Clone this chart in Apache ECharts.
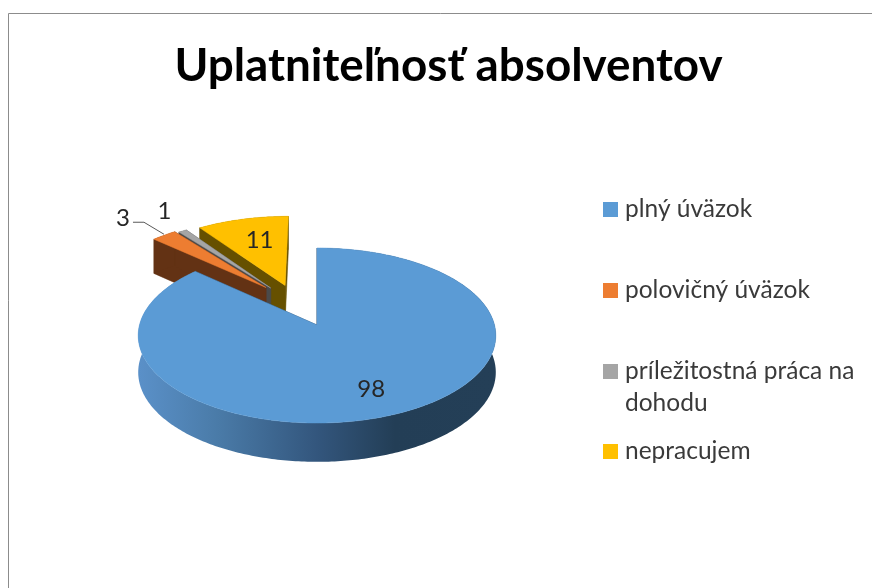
<!DOCTYPE html>
<html><head><meta charset="utf-8">
<style>html,body{margin:0;padding:0;background:#fff}#c{width:872px;height:588px}</style>
<script src="https://cdn.jsdelivr.net/npm/echarts@6/dist/echarts.min.js"></script>
</head><body><div id="c"></div>
<script>
const titleText = 'Uplatniteľnosť absolventov';
const categories = ['plný úväzok', 'polovičný úväzok', 'príležitostná práca na dohodu', 'nepracujem'];
const values = [98, 3, 1, 11];
const legendLines = [['plný úväzok'], ['polovičný úväzok'], ['príležitostná práca na', 'dohodu'], ['nepracujem']];

const topColors = ['#5b9bd5', '#ed7d31', '#a5a5a5', '#ffc000'];
const faceColors = ['#24405a', '#633214', '#4a4a4a', '#665000'];
const explodeOffsets = [[0, 0], [-0.303, 0.458], [-0.275, 0.452], [-0.19, 0.485]];
const paintOrder = [3, 2, 1, 0];
const legendTops = [197, 278, 359, 439];
const view = { cx: 317, cy: 325, rx: 177.5, ry: 86.24, persp: 0.12, depth: 36.5, depthPersp: 0.06 };
const total = values.reduce((a, b) => a + b, 0);

function project(u, v, drop) {
  const w = 1 + view.persp * v;
  return [view.cx + view.rx * u / w,
          view.cy - view.ry * v / w + (drop ? view.depth / (1 + view.depthPersp * v) : 0)];
}
function sliceAngles(i) {
  let start = 0;
  for (let k = 0; k < i; k++) start += values[k] / total * 2 * Math.PI;
  return [start, start + values[i] / total * 2 * Math.PI];
}
function arc(i, drop) {
  const [a0, a1] = sliceAngles(i), off = explodeOffsets[i], pts = [];
  const n = Math.max(2, Math.ceil((a1 - a0) / 0.015));
  for (let s = 0; s <= n; s++) {
    const a = a0 + (a1 - a0) * s / n;
    pts.push(project(Math.sin(a) + off[0], Math.cos(a) + off[1], drop));
  }
  return pts;
}
function polarPoint(i, r) {
  const [a0, a1] = sliceAngles(i), a = (a0 + a1) / 2, off = explodeOffsets[i];
  return project(r * Math.sin(a) + off[0], r * Math.cos(a) + off[1], false);
}
function poly(points, fill, stroke) {
  return { type: 'polygon', shape: { points }, style: { fill, stroke: stroke || fill, lineWidth: 0.5 }, silent: true };
}
function label(text, p) {
  return { type: 'text', silent: true, style: { text, x: p[0], y: p[1], align: 'center', verticalAlign: 'middle',
    fill: '#262626', font: '24px Lato' } };
}
function renderSlice(i) {
  return function (params, api) {
    const value = api.value(0);
    const topArc = arc(i, false), lowArc = arc(i, true);
    const off = explodeOffsets[i];
    const apex = project(off[0], off[1], false), apexLow = project(off[0], off[1], true);
    const first = topArc[0], last = topArc[topArc.length - 1];
    const firstLow = lowArc[0], lastLow = lowArc[lowArc.length - 1];
    const wallFill = i === 0
      ? { type: 'linear', x: view.cx - view.rx, y: 0, x2: view.cx + view.rx, y2: 0, global: true,
          colorStops: [{ offset: 0, color: '#5a90c8' }, { offset: 0.22, color: '#4a7ba8' }, { offset: 0.5, color: '#33567d' },
                       { offset: 0.72, color: '#233e56' }, { offset: 1, color: '#243f57' }] }
      : faceColors[i];
    const children = [
      poly([apex, first, firstLow, apexLow], faceColors[i]),
      poly([apex, last, lastLow, apexLow], faceColors[i]),
      poly(topArc.concat(lowArc.slice().reverse()), wallFill, 'none'),
      poly([apex].concat(topArc), topColors[i])
    ];
    if (i === 0) children.push(label(String(value), (p => [p[0] - 2, p[1] + 3])(polarPoint(0, 0.72))));
    if (i === 3) children.push(label(String(value), (p => [p[0] + 3, p[1] - 1])(polarPoint(3, 0.65))));
    if (i === 2) children.push(label(String(value), (p => [p[0] - 18, p[1] - 20])(polarPoint(2, 1))));
    if (i === 1) {
      const p = polarPoint(1, 1);
      children.push({ type: 'polyline', silent: true,
        shape: { points: [[p[0], p[1] - 1], [p[0] - 20, p[1] - 13], [p[0] - 31, p[1] - 13]] },
        style: { stroke: '#595959', lineWidth: 1, fill: 'none' } });
      children.push(label(String(value), [p[0] - 41, p[1] - 17]));
    }
    return { type: 'group', children };
  };
}

const chart = echarts.init(document.getElementById('c'), null, { renderer: 'canvas' });
chart.setOption({
  animation: false,
  backgroundColor: '#fff',
  title: { text: titleText, left: 443.5, top: 38, textAlign: 'center',
    textStyle: { fontFamily: 'Lato', fontWeight: 'bold', fontSize: 45.8, color: '#000' } },
  legend: categories.map((name, i) => ({
    data: [name], left: 603, top: legendTops[i], padding: 0, selectedMode: false,
    itemWidth: 15, itemHeight: 15, icon: 'rect',
    formatter: () => legendLines[i][0],
    textStyle: { fontFamily: 'Lato', fontSize: 24.5, color: '#3a3a3a', padding: [0, 0, 0, 2] }
  })),
  graphic: [
    { type: 'polyline', silent: true, shape: { points: [[8.5, 588], [8.5, 13.5], [872, 13.5]] },
      style: { stroke: '#8c8c8c', lineWidth: 1, fill: 'none' } },
    { type: 'text', silent: true, x: 625, y: 391, style: { text: legendLines[2][1], font: '24.5px Lato', fill: '#3a3a3a' } }
  ],
  series: paintOrder.map(i => ({
    type: 'custom', name: categories[i], coordinateSystem: 'none',
    itemStyle: { color: topColors[i] },
    renderItem: renderSlice(i),
    data: [[values[i]]]
  }))
});
</script></body></html>
